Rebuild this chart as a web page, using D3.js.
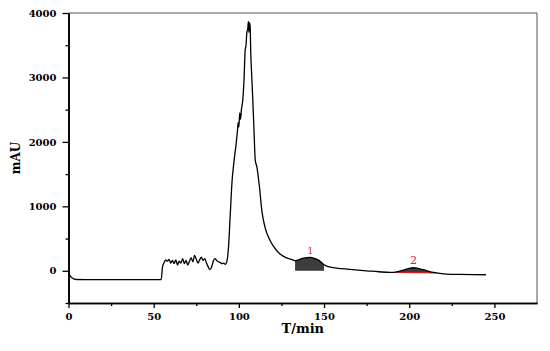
<!DOCTYPE html>
<html><head><meta charset="utf-8">
<script src="https://cdn.jsdelivr.net/npm/d3@7"></script>
<style>body{margin:0;background:#fff}svg{display:block}text{font-family:"DejaVu Serif",serif;font-weight:bold}</style>
</head><body><svg id="c" width="550" height="351"></svg>
<script>
const times = [0,1,2,3,5,20,40,54.4,55.2,56,57,58,59,60,61,62,63,64,65,66,67,68,69,70,71,72,73,74,75,76,77,78,79,80,81,82,83,84,85,86,87,88,89,90,91,92,93,93.9,95,95.9,97.2,98.4,99.2,99.6,100,100.5,101,101.5,102.3,103,103.7,104.2,104.7,105.2,105.6,105.9,106.2,106.6,107,107.6,108.2,109,109.6,110.6,112.1,113.5,115.4,118.4,122.3,124.2,128,132,133,135,138,142,144,146.7,148.5,150,152,154.6,160,163.4,170,175,182,188.8,191,194,196.6,200,202.5,205,208.3,211,214.2,216,222,230,238,245];
const values = [-30,-80,-110,-125,-135,-137,-137,-135,60,120,170,150,175,120,160,110,170,90,150,120,190,110,160,90,150,200,140,240,180,120,170,210,160,190,120,60,20,60,150,190,160,140,130,110,120,100,150,360,900,1350,1710,1970,2180,2300,2230,2450,2350,2500,2650,2950,3420,3500,3700,3750,3870,3700,3850,3800,3370,3000,2640,2100,1720,1610,1300,930,670,467,311,260,200,166,155,170,197,207,195,166,130,93,70,52,35,26,10,0,-15,-26,-26,-10,10,38,47,38,16,-5,-26,-32,-52,-57,-60,-62];
const xTicks = [0,50,100,150,200,250];
const yTicks = [0,1000,2000,3000,4000];
const peakLabels = ["1","2"];
const peak1Range = [133,150];
const peak2Range = [191,216];

const svg = d3.select("#c");
const L=68.5,R=537,T=13,B=303;
const x = d3.scaleLinear().domain([0,275]).range([L,R]);
const y = d3.scaleLinear().domain([-500,4000]).range([B,T]);
const data = times.map((t,i)=>({t,v:values[i]}));
const curve = d3.curveMonotoneX;

svg.append("line").attr("x1",L).attr("x2",R).attr("y1",T).attr("y2",T).attr("stroke","#555").attr("stroke-width",1);
svg.append("line").attr("x1",R).attr("x2",R).attr("y1",T).attr("y2",B).attr("stroke","#555").attr("stroke-width",1);

const xa = svg.append("g").attr("transform",`translate(0,${B})`)
  .call(d3.axisBottom(x).tickValues(xTicks).tickFormat(d3.format("d")).tickSize(5).tickPadding(5).tickSizeOuter(0));
const xm = svg.append("g").attr("transform",`translate(0,${B})`)
  .call(d3.axisBottom(x).tickValues(d3.range(25,275,50)).tickSize(3).tickFormat("").tickSizeOuter(0));
const ya = svg.append("g").attr("transform",`translate(${L},0)`)
  .call(d3.axisLeft(y).tickValues(yTicks).tickFormat(d3.format("d")).tickSize(6).tickPadding(6).tickSizeOuter(0));
const ym = svg.append("g").attr("transform",`translate(${L},0)`)
  .call(d3.axisLeft(y).tickValues([-500,500,1500,2500,3500]).tickSize(3).tickFormat("").tickSizeOuter(0));
[xa,xm,ya,ym].forEach(g=>{g.select(".domain").attr("stroke","#000").attr("stroke-width",1.6);
  g.selectAll(".tick line").attr("stroke","#000").attr("stroke-width",1.3);
  g.selectAll("text").attr("font-size",10).attr("fill","#000").style("font-family","DejaVu Serif").style("font-weight","bold");});

const p1 = data.filter(d=>d.t>=peak1Range[0]&&d.t<=peak1Range[1]);
svg.append("path").datum(p1).attr("fill","#3d3d3d")
  .attr("d",d3.area().curve(curve).x(d=>x(d.t)).y0(y(0)).y1(d=>y(d.v)));
const p2 = data.filter(d=>d.t>=peak2Range[0]&&d.t<=peak2Range[1]);
const a2=p2[0], b2=p2[p2.length-1];
const chord = t=> a2.v+(b2.v-a2.v)*(t-a2.t)/(b2.t-a2.t);
svg.append("path").datum(p2).attr("fill","#3d3d3d")
  .attr("d",d3.area().curve(curve).x(d=>x(d.t)).y0(d=>y(chord(d.t))).y1(d=>y(d.v)));
svg.append("line").attr("x1",x(a2.t)).attr("x2",x(b2.t)).attr("y1",y(a2.v)).attr("y2",y(b2.v))
  .attr("stroke","#d42020").attr("stroke-width",1.2);

svg.append("path").datum(data).attr("fill","none").attr("stroke","#000").attr("stroke-width",1.3)
  .attr("stroke-linejoin","round")
  .attr("d",d3.line().curve(curve).x(d=>x(d.t)).y(d=>y(d.v)));

svg.append("text").attr("x",x(142)).attr("y",y(210)-3).attr("text-anchor","middle")
  .attr("font-size",9).attr("fill","#e0202a").style("font-weight","normal").text(peakLabels[0]);
svg.append("text").attr("x",x(202.5)).attr("y",y(47)-4).attr("text-anchor","middle")
  .attr("font-size",11).attr("fill","#e0202a").style("font-weight","normal").text(peakLabels[1]);

svg.append("text").attr("x",(L+R)/2).attr("y",333).attr("text-anchor","middle").attr("font-size",13).text("T/min");
svg.append("text").attr("transform","translate(20,158) rotate(-90)").attr("text-anchor","middle").attr("font-size",12).text("mAU");
</script></body></html>
